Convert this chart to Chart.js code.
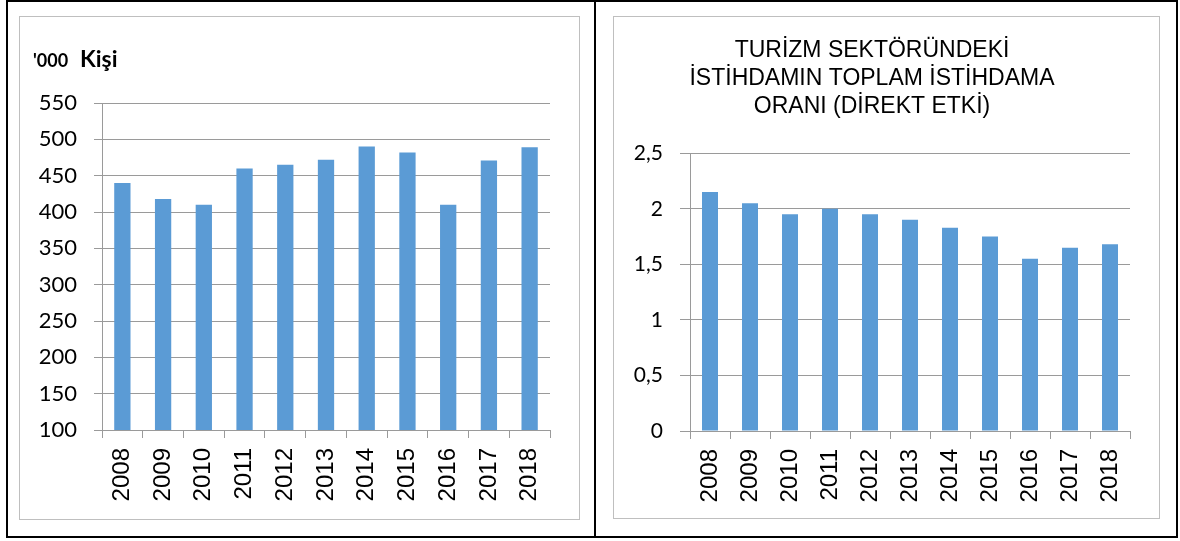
<!DOCTYPE html>
<html><head><meta charset="utf-8">
<script src="https://cdn.jsdelivr.net/npm/chart.js@4.4.1/dist/chart.umd.min.js"></script>
<style>
html,body{margin:0;padding:0;background:#fff;}
#page{position:relative;width:1180px;height:541px;overflow:hidden;background:#fff;}
.outer{position:absolute;left:6px;top:0;width:1172px;height:538px;border:2px solid #000;box-sizing:border-box;}
.divider{position:absolute;left:594px;top:0;width:2px;height:538px;background:#000;}
.frame{position:absolute;border:1px solid #bfbfbf;box-sizing:border-box;}
canvas{position:absolute;}
</style></head>
<body><div id="page">
<div class="outer"></div><div class="divider"></div>
<div class="frame" style="left:19px;top:16px;width:561px;height:504px"></div>
<div class="frame" style="left:613px;top:16px;width:547px;height:503px"></div>
<canvas id="c1" width="559" height="502" style="left:20px;top:17px"></canvas>
<canvas id="c2" width="545" height="501" style="left:614px;top:17px"></canvas>
</div>
<script>
const years = ['2008','2009','2010','2011','2012','2013','2014','2015','2016','2017','2018'];
const employment = [440,418,410,460,465,472,490,482,410,471,489];
const shareDirect = [2.15,2.05,1.95,2.0,1.95,1.9,1.83,1.75,1.55,1.65,1.68];
const leftTicks = [100,150,200,250,300,350,400,450,500,550];
const rightTicks = [0,0.5,1,1.5,2,2.5];
const leftUnit = ["'000", 'Kişi'];
const rightTitle = ['TURİZM SEKTÖRÜNDEKİ','İSTİHDAMIN TOPLAM İSTİHDAMA','ORANI (DİREKT ETKİ)'];

const BAR = '#5b9bd5';
const GRID = '#9a9a9a';

function xScale(h){
  return {
    type:'category',
    grid:{display:true, drawOnChartArea:false, drawTicks:true, tickLength:8, color:GRID, lineWidth:1, offset:true},
    border:{display:true, color:GRID, width:1},
    ticks:{autoSkip:false, minRotation:90, maxRotation:90, padding:10, color:'#000',
      font:{family:'Liberation Sans', size:24}},
    afterFit(s){ s.height = h; }
  };
}
function yScale(min,max,ticksArr,w,size,tickLen,pad){
  return {
    min:min, max:max,
    grid:{color:GRID, lineWidth:1, drawTicks:true, tickLength:tickLen},
    border:{display:true, color:GRID, width:1},
    ticks:{color:'#000', padding:pad, font:{family:'Lato', size:size},
      callback:(v)=>String(v).replace('.',',')},
    afterBuildTicks(s){ s.ticks = ticksArr.map(v=>({value:v})); },
    afterFit(s){ s.width = w; }
  };
}

const unitPlugin = {
  id:'unitLabel',
  afterDraw(chart){
    const ctx = chart.ctx;
    ctx.save();
    ctx.fillStyle = '#000';
    ctx.textBaseline = 'alphabetic';
    ctx.font = 'bold 18px Lato';
    ctx.fillText(leftUnit[0], 13, 50);
    ctx.font = 'bold 23px Lato';
    ctx.fillText(leftUnit[1], 60, 50);
    ctx.restore();
  }
};

new Chart(document.getElementById('c1'), {
  type:'bar',
  data:{labels:years, datasets:[{data:employment, backgroundColor:BAR, barPercentage:0.4, categoryPercentage:1}]},
  options:{
    responsive:false, animation:false, devicePixelRatio:1,
    layout:{padding:{top:86,left:0,right:29,bottom:0}},
    plugins:{legend:{display:false}, tooltip:{enabled:false}, title:{display:false}},
    scales:{x:xScale(89), y:yScale(100,550,leftTicks,82,22,8,17)}
  },
  plugins:[unitPlugin]
});

new Chart(document.getElementById('c2'), {
  type:'bar',
  data:{labels:years, datasets:[{data:shareDirect, backgroundColor:BAR, barPercentage:0.4, categoryPercentage:1}]},
  options:{
    responsive:false, animation:false, devicePixelRatio:1,
    layout:{padding:{top:0,left:0,right:29,bottom:0}},
    plugins:{legend:{display:false}, tooltip:{enabled:false},
      title:{display:true, text:rightTitle, color:'#000',
        font:{family:'Liberation Sans', size:23, weight:'normal', lineHeight:1.22},
        padding:{top:20,bottom:32}}},
    scales:{x:xScale(87), y:yScale(0,2.5,rightTicks,76,21,10,17)}
  }
});
</script>
</body></html>
